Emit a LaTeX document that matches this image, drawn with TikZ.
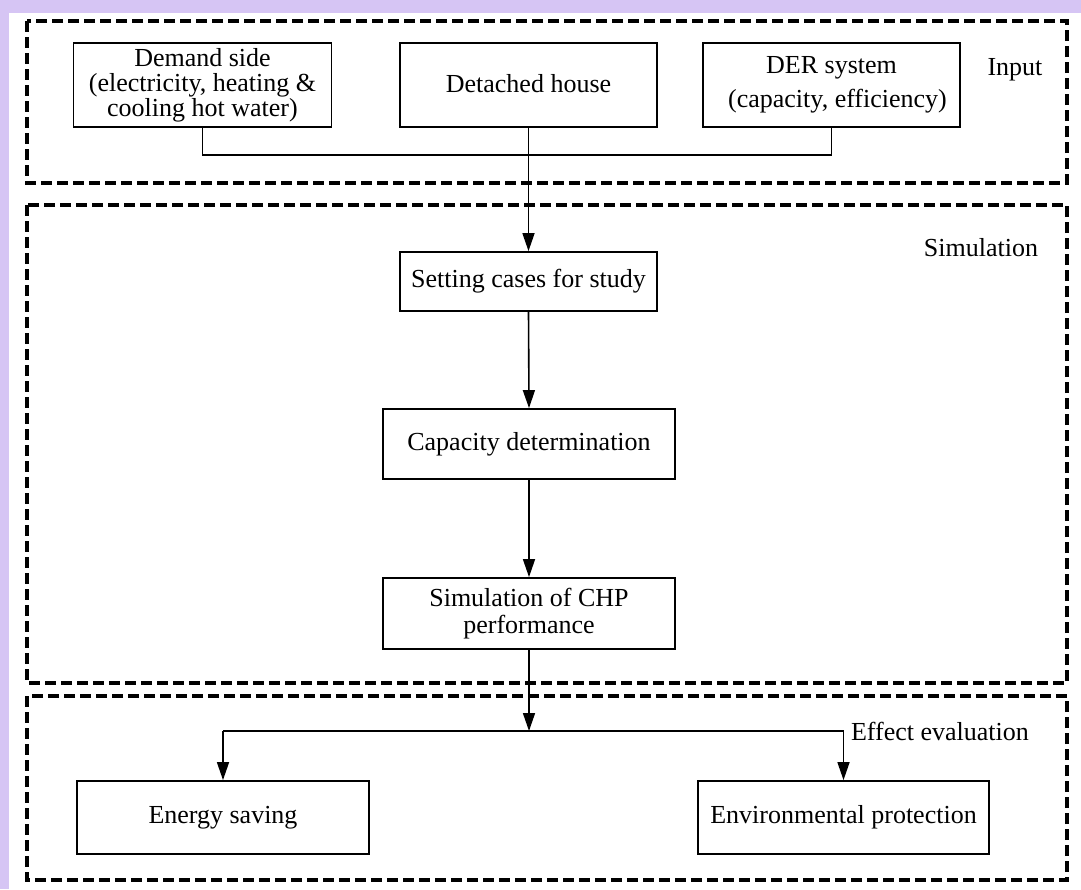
\documentclass[tikz,border=0pt]{standalone}
\usepackage{fontspec}
\setmainfont{Liberation Serif}
\usetikzlibrary{arrows.meta}
\definecolor{bgpurple}{RGB}{214,197,244}
\newcommand{\fs}{\fontsize{26}{25}\selectfont}
\begin{document}
\begin{tikzpicture}[x=1pt,y=-1pt,
  box/.style 2 args={draw, line width=1.8pt, inner sep=0pt, minimum width=#1pt, minimum height=#2pt, align=center, font=\fs},
  frame/.style={draw, line width=3.5pt, dash pattern=on 11pt off 5pt},
  lbl/.style={inner sep=0pt, font=\fs},
  conn/.style={line width=1.6pt},
  arr/.style={line width=1.6pt, -{Triangle[length=18pt,width=12pt]}}]
\useasboundingbox (0,0) rectangle (1081,889);
% background
\fill[bgpurple] (0,0) rectangle (1081,889);
\fill[white] (9,13) rectangle (1081,889);
% frames
\draw[frame] (27,21) rectangle (1067,183);
\draw[frame] (27,205) rectangle (1067,683);
\draw[frame] (27,696) rectangle (1067,880);
% frame labels
\node[lbl] (linput) at (1015,70) {Input};
\node[lbl] (lsim) at (981,248) {Simulation};
\node[lbl] (leff) at (940,731) {Effect evaluation};
% input boxes
\node[box={258}{84}] (dem) at (202.5,85) {Demand side\\(electricity, heating \&\\cooling hot water)};
\node[box={257}{84}] (det) at (528.5,85) {\raisebox{3pt}{Detached house}};
\node[box={257}{84}, font=\fontsize{26}{34}\selectfont] (der) at (831.5,85) {DER system\\\hspace*{12pt}(capacity, efficiency)};
% simulation boxes
\node[box={257}{59}] (set) at (528.5,281.5) {Setting cases for study};
\node[box={292}{70}] (cap) at (529,444) {Capacity determination};
\node[box={292}{71}, font=\fontsize{26}{27}\selectfont] (chp) at (529,613.5) {Simulation of CHP\\performance};
% effect boxes
\node[box={292}{73}] (es) at (223,817.5) {Energy saving};
\node[box={291}{73}] (ep) at (843.5,817.5) {Environmental protection};
% connectors
\coordinate (bus) at (0,155);
\coordinate (br) at (0,731);
\draw[conn] (dem.south) -- (dem.south |- bus) -- (der.south |- bus) -- (der.south);
\draw[arr] (det.south) -- (set.north);
\draw[arr] (set.south) -- (cap.north);
\draw[arr] (cap.south) -- (chp.north);
\draw[arr] (chp.south) -- (chp.south |- br);
\draw[conn] (es.north |- br) -- (ep.north |- br);
\draw[arr] (es.north |- br) -- (es.north);
\draw[arr] (ep.north |- br) -- (ep.north);
\end{tikzpicture}
\end{document}
